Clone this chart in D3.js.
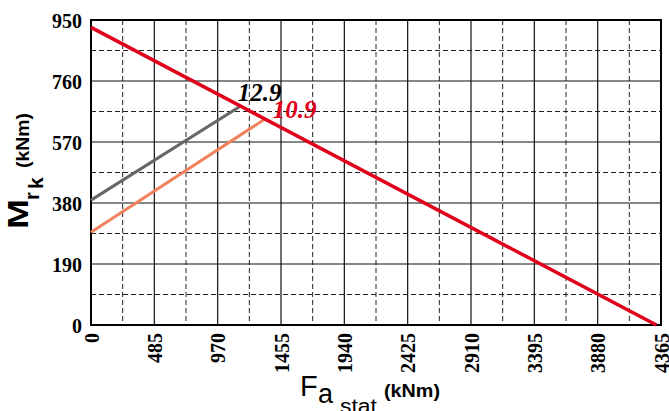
<!DOCTYPE html>
<html><head><meta charset="utf-8">
<script src="https://cdn.jsdelivr.net/npm/d3@7"></script>
<style>
body{margin:0;background:#fff;}
svg{display:block;}
</style></head><body>
<svg id="c" width="669" height="411"></svg>
<script>
const xTicks = [0,485,970,1455,1940,2425,2910,3395,3880,4365];
const yTicks = [0,190,380,570,760,950];
const xDomain = [0,4365];
const yDomain = [0,950];
// series: [F, M] points
const redX = [0,4330];   const redY = [927,0];
const grayX = [0,1146];  const grayY = [389,682];
const orangeX = [0,1338]; const orangeY = [289,643];
const labels = [{t:"12.9", x:1146, y:682, c:"#000", dx:-3, dy:-5},{t:"10.9", x:1338, y:643, c:"#e0001b", dx:7, dy:-1}];

const svg = d3.select("#c");
const L=91,R=661,T=20,B=325;
const x = d3.scaleLinear().domain(xDomain).range([L,R]);
const y = d3.scaleLinear().domain(yDomain).range([B,T]);

const g = svg.append("g");
const xMid = xTicks.slice(0,-1).map((v,i)=>(v+xTicks[i+1])/2);
const yMid = yTicks.slice(0,-1).map((v,i)=>(v+yTicks[i+1])/2);
g.selectAll(".vd").data(xMid).join("line")
 .attr("x1",d=>x(d)).attr("x2",d=>x(d)).attr("y1",T).attr("y2",B)
 .attr("stroke","#222").attr("stroke-width",1).attr("stroke-dasharray","5,3");
g.selectAll(".hd").data(yMid).join("line")
 .attr("y1",d=>y(d)).attr("y2",d=>y(d)).attr("x1",L).attr("x2",R)
 .attr("stroke","#222").attr("stroke-width",1).attr("stroke-dasharray","5,3");
g.selectAll(".vs").data(xTicks.slice(1,-1)).join("line")
 .attr("x1",d=>x(d)).attr("x2",d=>x(d)).attr("y1",T).attr("y2",B)
 .attr("stroke","#111").attr("stroke-width",1.2);
g.selectAll(".hs").data(yTicks.slice(1,-1)).join("line")
 .attr("y1",d=>y(d)).attr("y2",d=>y(d)).attr("x1",L).attr("x2",R)
 .attr("stroke","#111").attr("stroke-width",1.2);
g.append("rect").attr("x",L).attr("y",T).attr("width",R-L).attr("height",B-T)
 .attr("fill","none").attr("stroke","#000").attr("stroke-width",2);

const serif="'Liberation Serif','Times New Roman',serif";
const xa = svg.append("g").attr("transform",`translate(0,${B})`)
 .call(d3.axisBottom(x).tickValues(xTicks).tickSize(0).tickFormat(d3.format("d")));
xa.select(".domain").remove();
xa.selectAll("text").attr("transform","rotate(-90)").attr("text-anchor","end")
 .attr("x",-8).attr("y",0).attr("dy","0.35em")
 .style("font-family",serif).style("font-weight","bold")
 .style("font-size","20px").attr("fill","#000");
const ya = svg.append("g").attr("transform",`translate(${L},0)`)
 .call(d3.axisLeft(y).tickValues(yTicks).tickSize(0).tickFormat(d3.format("d")));
ya.select(".domain").remove();
ya.selectAll("text").attr("x",-9).attr("dy","0.35em")
 .style("font-family",serif).style("font-weight","bold")
 .style("font-size","20px").attr("fill","#000");

const line = d3.line().x(d=>x(d[0])).y(d=>y(d[1]));
function draw(xs,ys,col,w){
  svg.append("path").datum(xs.map((v,i)=>[v,ys[i]])).attr("d",line)
   .attr("fill","none").attr("stroke",col).attr("stroke-width",w);
}
draw(grayX,grayY,"#666666",3);
draw(orangeX,orangeY,"#f0825e",3);
draw(redX,redY,"#e0001b",3.5);

svg.selectAll(".lbl").data(labels).join("text")
 .attr("x",d=>x(d.x)+d.dx).attr("y",d=>y(d.y)+d.dy).text(d=>d.t).attr("fill",d=>d.c)
 .style("font-family",serif).style("font-weight","bold")
 .style("font-style","italic").style("font-size","25px");

const sans="'Liberation Sans',Arial,sans-serif";
// y title in rotated frame: origin at screen (28,229)
const yg = svg.append("g").attr("transform","translate(28,229) rotate(-90)")
 .style("font-family",sans).attr("fill","#000").style("font-weight","bold");
yg.append("text").attr("x",0).attr("y",0).text("M").style("font-size","30px")
 .attr("textLength",30).attr("lengthAdjust","spacingAndGlyphs");
yg.append("text").attr("x",29).attr("y",11).text("r").style("font-size","20px");
yg.append("text").attr("x",40).attr("y",15).text("k").style("font-size","21px");
yg.append("text").attr("x",61).attr("y",1).text("(kNm)").style("font-size","19px")
 .attr("textLength",55).attr("lengthAdjust","spacingAndGlyphs");

const xg = svg.append("g").style("font-family",sans).attr("fill","#000");
xg.append("text").attr("x",300).attr("y",396).text("F").style("font-size","29px");
xg.append("text").attr("x",318).attr("y",403).text("a").style("font-size","27px");
xg.append("text").attr("x",340).attr("y",413).text("stat").style("font-size","20px")
 .attr("textLength",37).attr("lengthAdjust","spacingAndGlyphs");
xg.append("text").attr("x",384).attr("y",397).text("(kNm)").style("font-size","18px").style("font-weight","bold")
 .attr("textLength",56).attr("lengthAdjust","spacingAndGlyphs");
</script></body></html>
